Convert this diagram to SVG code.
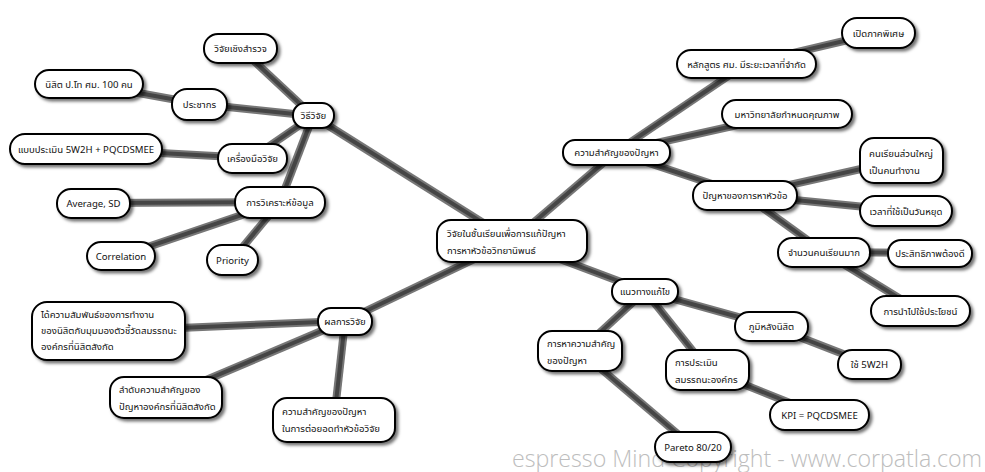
<svg xmlns="http://www.w3.org/2000/svg" width="985" height="472" viewBox="0 0 985 472">
<defs>
<filter id="sh" x="-20%" y="-30%" width="150%" height="180%">
<feDropShadow dx="2.5" dy="2.5" stdDeviation="1.5" flood-color="#000" flood-opacity="0.55"/>
</filter>
<style>
.n rect{fill:#fff;stroke:#000;stroke-width:2;filter:url(#sh)}
.n text{font-family:"Noto Sans Thai","Tahoma","Noto Sans","DejaVu Sans",sans-serif;font-size:9.6px;fill:#111}
.c{text-anchor:middle}
.e line{stroke-linecap:butt}
.o{stroke:#777;stroke-width:8}
.i{stroke:#454545;stroke-width:4}
.wm{font-family:"Open Sans","Liberation Sans",sans-serif;font-size:24px;fill:#bdbdbd;font-weight:300}
</style>
</defs>
<rect width="985" height="472" fill="#fff"/>
<text class="wm" x="512" y="467" textLength="470" lengthAdjust="spacingAndGlyphs">espresso Mind Copyright - www.corpatla.com</text>
<g id="connectors" class="e">
<g class="o">
<line x1="512" y1="241" x2="313" y2="116"/>
<line x1="313" y1="116" x2="240" y2="48"/>
<line x1="313" y1="116" x2="199" y2="104"/>
<line x1="199" y1="104" x2="89" y2="84"/>
<line x1="313" y1="116" x2="252" y2="158"/>
<line x1="252" y1="158" x2="86" y2="149"/>
<line x1="313" y1="116" x2="280" y2="202"/>
<line x1="280" y1="202" x2="93" y2="203"/>
<line x1="280" y1="202" x2="121" y2="256"/>
<line x1="280" y1="202" x2="232" y2="260"/>
<line x1="512" y1="241" x2="616" y2="152"/>
<line x1="616" y1="152" x2="746" y2="64"/>
<line x1="746" y1="64" x2="878" y2="33"/>
<line x1="616" y1="152" x2="787" y2="114"/>
<line x1="616" y1="152" x2="745" y2="195"/>
<line x1="745" y1="195" x2="901" y2="160"/>
<line x1="745" y1="195" x2="906" y2="211"/>
<line x1="745" y1="195" x2="824" y2="252"/>
<line x1="824" y1="252" x2="929" y2="253"/>
<line x1="824" y1="252" x2="920" y2="311"/>
<line x1="512" y1="241" x2="645" y2="291"/>
<line x1="645" y1="291" x2="580" y2="351"/>
<line x1="580" y1="351" x2="693" y2="447"/>
<line x1="645" y1="291" x2="708" y2="370"/>
<line x1="708" y1="370" x2="820" y2="415"/>
<line x1="645" y1="291" x2="771" y2="326"/>
<line x1="771" y1="326" x2="869" y2="364"/>
<line x1="512" y1="241" x2="345" y2="321"/>
<line x1="345" y1="321" x2="108" y2="331"/>
<line x1="345" y1="321" x2="166" y2="397"/>
<line x1="345" y1="321" x2="334" y2="420"/>
</g>
<g class="i">
<line x1="512" y1="241" x2="313" y2="116"/>
<line x1="313" y1="116" x2="240" y2="48"/>
<line x1="313" y1="116" x2="199" y2="104"/>
<line x1="199" y1="104" x2="89" y2="84"/>
<line x1="313" y1="116" x2="252" y2="158"/>
<line x1="252" y1="158" x2="86" y2="149"/>
<line x1="313" y1="116" x2="280" y2="202"/>
<line x1="280" y1="202" x2="93" y2="203"/>
<line x1="280" y1="202" x2="121" y2="256"/>
<line x1="280" y1="202" x2="232" y2="260"/>
<line x1="512" y1="241" x2="616" y2="152"/>
<line x1="616" y1="152" x2="746" y2="64"/>
<line x1="746" y1="64" x2="878" y2="33"/>
<line x1="616" y1="152" x2="787" y2="114"/>
<line x1="616" y1="152" x2="745" y2="195"/>
<line x1="745" y1="195" x2="901" y2="160"/>
<line x1="745" y1="195" x2="906" y2="211"/>
<line x1="745" y1="195" x2="824" y2="252"/>
<line x1="824" y1="252" x2="929" y2="253"/>
<line x1="824" y1="252" x2="920" y2="311"/>
<line x1="512" y1="241" x2="645" y2="291"/>
<line x1="645" y1="291" x2="580" y2="351"/>
<line x1="580" y1="351" x2="693" y2="447"/>
<line x1="645" y1="291" x2="708" y2="370"/>
<line x1="708" y1="370" x2="820" y2="415"/>
<line x1="645" y1="291" x2="771" y2="326"/>
<line x1="771" y1="326" x2="869" y2="364"/>
<line x1="512" y1="241" x2="345" y2="321"/>
<line x1="345" y1="321" x2="108" y2="331"/>
<line x1="345" y1="321" x2="166" y2="397"/>
<line x1="345" y1="321" x2="334" y2="420"/>
</g>
</g>
<g id="root" class="n"><rect x="437" y="220" width="150" height="42" rx="14"/><text x="447" y="237">วิจัยในชั้นเรียนเพื่อการแก้ปัญหา</text><text x="447" y="254">การหาหัวข้อวิทยานิพนธ์</text></g>
<g id="n-method" class="n"><rect x="293" y="103" width="41" height="25" rx="12"/><text class="c" x="313.5" y="119">วิธีวิจัย</text></g>
<g id="n-survey" class="n"><rect x="204" y="34" width="73" height="29" rx="14"/><text class="c" x="240.5" y="52">วิจัยเชิงสำรวจ</text></g>
<g id="n-pop" class="n"><rect x="172" y="89" width="55" height="31" rx="15"/><text class="c" x="199.5" y="108">ประชากร</text></g>
<g id="n-students" class="n"><rect x="35" y="70" width="108" height="28" rx="14"/><text class="c" x="89" y="87.5">นิสิต ป.โท ศม. 100 คน</text></g>
<g id="n-tool" class="n"><rect x="218" y="144" width="69" height="29" rx="14"/><text class="c" x="252.5" y="162">เครื่องมือวิจัย</text></g>
<g id="n-form" class="n"><rect x="10" y="134" width="152" height="30" rx="15"/><text class="c" x="86" y="152.5">แบบประเมิน 5W2H + PQCDSMEE</text></g>
<g id="n-analysis" class="n"><rect x="235" y="187" width="90" height="31" rx="15"/><text class="c" x="280" y="206">การวิเคราะห์ข้อมูล</text></g>
<g id="n-avg" class="n"><rect x="57" y="189" width="73" height="29" rx="14"/><text class="c" x="93.5" y="207">Average, SD</text></g>
<g id="n-corr" class="n"><rect x="87" y="242" width="68" height="28" rx="14"/><text class="c" x="121" y="259.5">Correlation</text></g>
<g id="n-prio" class="n"><rect x="207" y="245" width="51" height="30" rx="15"/><text class="c" x="232.5" y="263.5">Priority</text></g>
<g id="n-importance" class="n"><rect x="563" y="140" width="107" height="25" rx="12"/><text class="c" x="616.5" y="156">ความสำคัญของปัญหา</text></g>
<g id="n-course" class="n"><rect x="677" y="50" width="139" height="28" rx="14"/><text class="c" x="746.5" y="67.5">หลักสูตร ศม. มีระยะเวลาที่จำกัด</text></g>
<g id="n-special" class="n"><rect x="842" y="18" width="73" height="30" rx="15"/><text class="c" x="878.5" y="36.5">เปิดภาคพิเศษ</text></g>
<g id="n-univ" class="n"><rect x="722" y="100" width="130" height="28" rx="14"/><text class="c" x="787" y="117.5">มหาวิทยาลัยกำหนดคุณภาพ</text></g>
<g id="n-problem" class="n"><rect x="693" y="181" width="104" height="29" rx="14"/><text class="c" x="745" y="199">ปัญหาของการหาหัวข้อ</text></g>
<g id="n-workers" class="n"><rect x="860" y="138" width="83" height="45" rx="14"/><text x="869" y="157">คนเรียนส่วนใหญ่</text><text x="869" y="174">เป็นคนทำงาน</text></g>
<g id="n-holiday" class="n"><rect x="860" y="196" width="92" height="30" rx="15"/><text class="c" x="906" y="214.5">เวลาที่ใช้เป็นวันหยุด</text></g>
<g id="n-many" class="n"><rect x="778" y="238" width="92" height="29" rx="14"/><text class="c" x="824" y="256">จำนวนคนเรียนมาก</text></g>
<g id="n-eff" class="n"><rect x="888" y="240" width="84" height="27" rx="13"/><text class="c" x="930" y="257">ประสิทธิภาพต้องดี</text></g>
<g id="n-use" class="n"><rect x="871" y="296" width="99" height="30" rx="15"/><text class="c" x="920.5" y="314.5">การนำไปใช้ประโยชน์</text></g>
<g id="n-solution" class="n"><rect x="612" y="279" width="66" height="25" rx="12"/><text class="c" x="645" y="295">แนวทางแก้ไข</text></g>
<g id="n-find" class="n"><rect x="538" y="331" width="84" height="40" rx="14"/><text x="547" y="347">การหาความสำคัญ</text><text x="547" y="364">ของปัญหา</text></g>
<g id="n-pareto" class="n"><rect x="655" y="432" width="76" height="30" rx="15"/><text class="c" x="693" y="450.5">Pareto 80/20</text></g>
<g id="n-assess" class="n"><rect x="666" y="350" width="83" height="40" rx="14"/><text x="675" y="366">การประเมิน</text><text x="675" y="383">สมรรถนะองค์กร</text></g>
<g id="n-kpi" class="n"><rect x="770" y="400" width="99" height="30" rx="15"/><text class="c" x="819.5" y="418.5">KPI = PQCDSMEE</text></g>
<g id="n-background" class="n"><rect x="735" y="312" width="73" height="29" rx="14"/><text class="c" x="771.5" y="330">ภูมิหลังนิสิต</text></g>
<g id="n-5w2h" class="n"><rect x="838" y="350" width="63" height="29" rx="14"/><text class="c" x="869.5" y="368">ใช้ 5W2H</text></g>
<g id="n-results" class="n"><rect x="318" y="308" width="54" height="27" rx="13"/><text class="c" x="345" y="325">ผลการวิจัย</text></g>
<g id="n-relation" class="n"><rect x="32" y="302" width="153" height="58" rx="15"/><text x="41" y="318">ได้ความสัมพันธ์ของการทำงาน</text><text x="41" y="334">ของนิสิตกับมุมมองตัวชี้วัดสมรรถนะ</text><text x="41" y="350">องค์กรที่นิสิตสังกัด</text></g>
<g id="n-rank" class="n"><rect x="110" y="377" width="112" height="41" rx="14"/><text x="119" y="393">ลำดับความสำคัญของ</text><text x="119" y="410">ปัญหาองค์กรที่นิสิตสังกัด</text></g>
<g id="n-topic" class="n"><rect x="273" y="398" width="122" height="44" rx="14"/><text x="282" y="415">ความสำคัญของปัญหา</text><text x="282" y="432">ในการต่อยอดทำหัวข้อวิจัย</text></g>
</svg>
